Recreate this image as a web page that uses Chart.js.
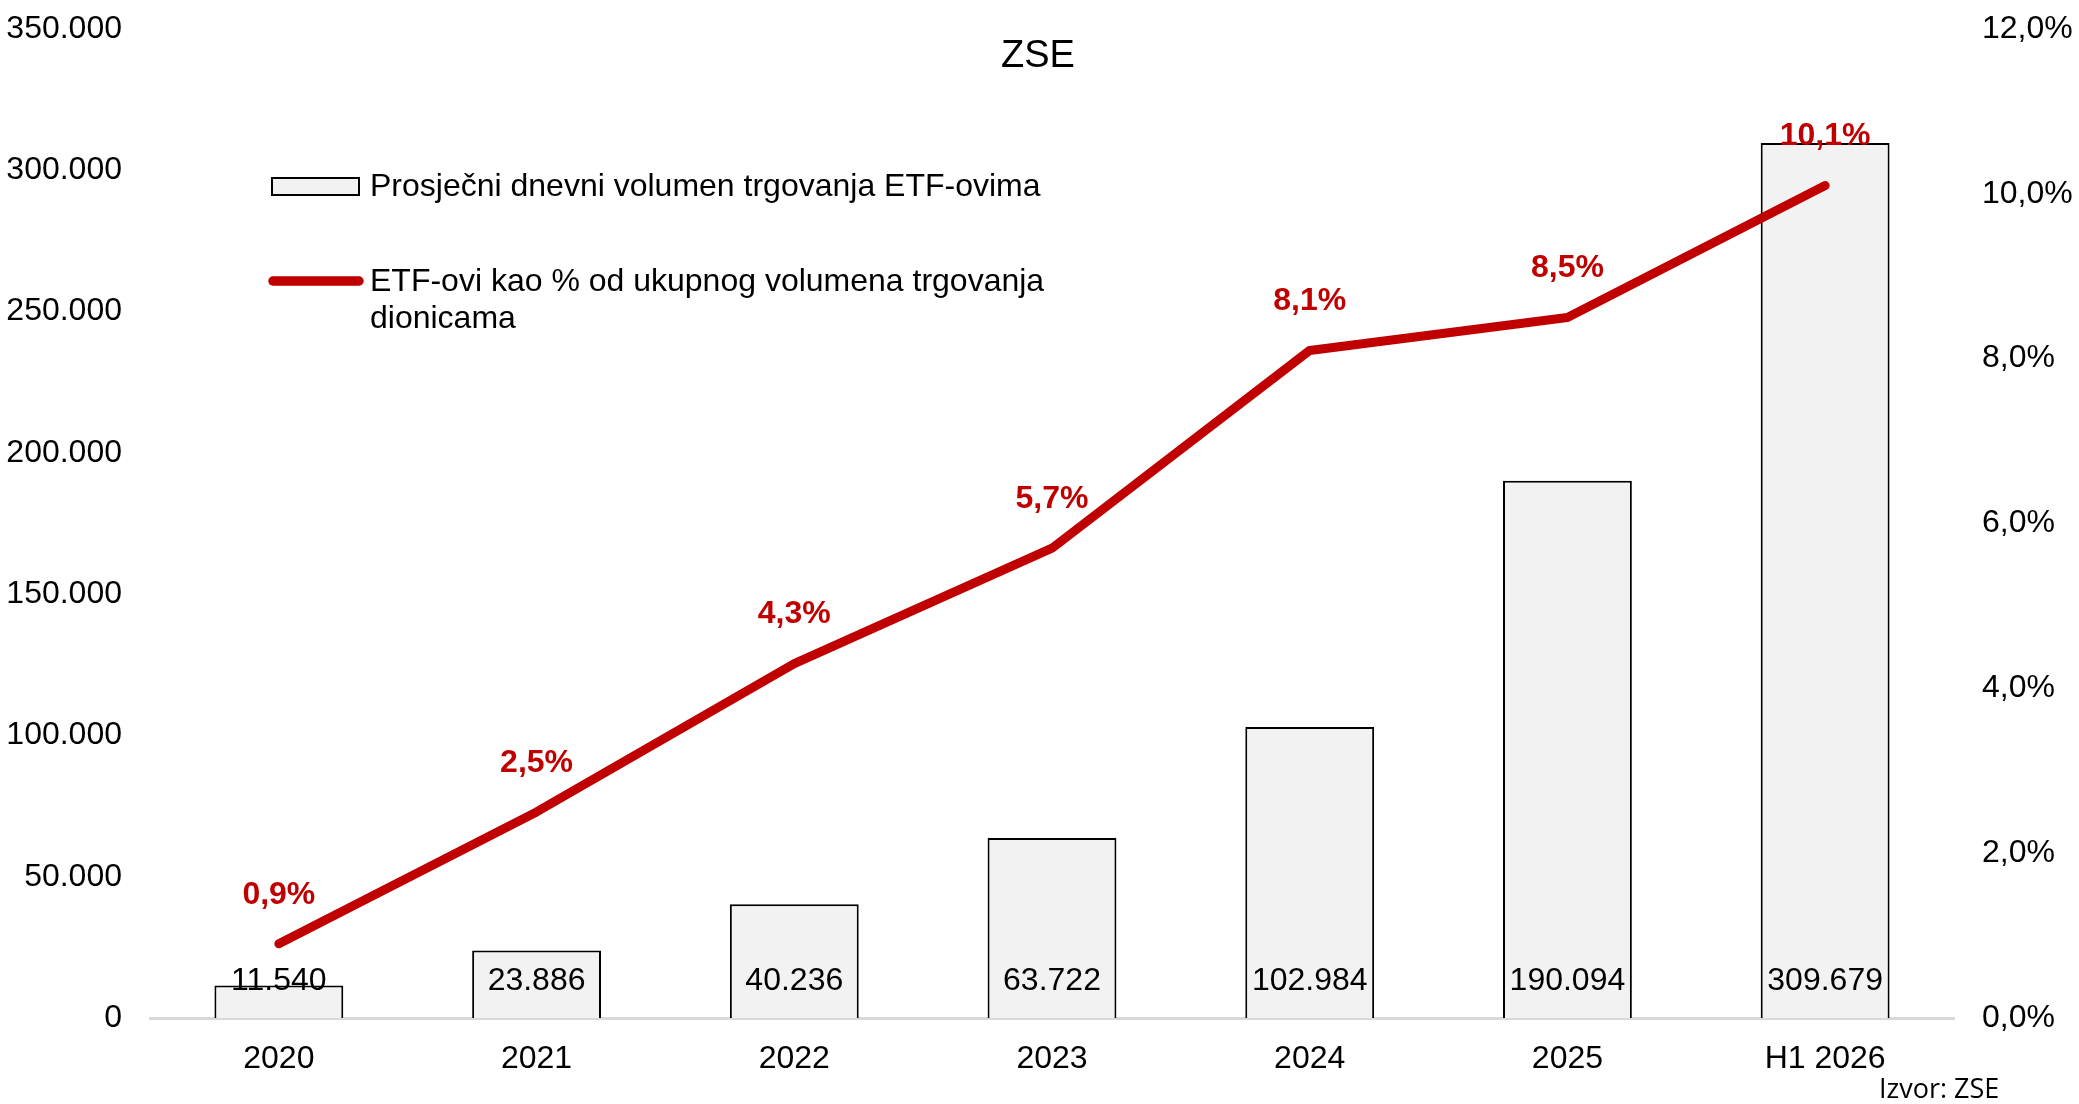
<!DOCTYPE html>
<html>
<head>
<meta charset="utf-8">
<script src="https://cdn.jsdelivr.net/npm/chart.js@4"></script>
<style>
  html, body { margin: 0; padding: 0; background: #fff; }
  #wrap { width: 2079px; height: 1104px; position: relative; }
</style>
</head>
<body>
<div id="wrap"><canvas id="chart"></canvas></div>
<script>
"use strict";

const CATEGORIES = ["2020", "2021", "2022", "2023", "2024", "2025", "H1 2026"];
const VOLUME = [11540, 23886, 40236, 63722, 102984, 190094, 309679];
const ETF_SHARE = [0.009, 0.025, 0.043, 0.057, 0.081, 0.085, 0.101];
const LEFT_TICKS = [0, 50000, 100000, 150000, 200000, 250000, 300000, 350000];
const RIGHT_TICKS = [0, 0.02, 0.04, 0.06, 0.08, 0.10, 0.12];

const BAR_LABEL = "Prosječni dnevni volumen trgovanja ETF-ovima";
const LINE_LABEL = ["ETF-ovi kao % od ukupnog volumena trgovanja", "dionicama"];
const TITLE = "ZSE";
const SOURCE = "Izvor: ZSE";

const RED = "#c00000";
const FONT = "'Liberation Sans', Arial, sans-serif";

// 11540 -> "11.540"
function fmtThousands(v) {
  return String(Math.round(v)).replace(/\B(?=(\d{3})+(?!\d))/g, ".");
}
// 0.101 -> "10,1%"
function fmtPct(v) {
  return (v * 100).toFixed(1).replace(".", ",") + "%";
}

// fixed axis sizes so the plot area lands where the original has it
function fitVertical(width) {
  return s => { s.width = width; s.paddingTop = 0; s.paddingBottom = 0; };
}

/* ─── Custom drawing: title, legend, data labels, source ─────────────── */
const decorations = {
  id: "decorations",
  afterDatasetsDraw(chart) {
    const ctx = chart.ctx;
    ctx.save();

    // bar value labels, fixed near the base of each bar
    const barMeta = chart.getDatasetMeta(0);
    const base = chart.scales.y.getPixelForValue(0);
    ctx.font = "32px " + FONT;
    ctx.fillStyle = "#000";
    ctx.textAlign = "center";
    ctx.textBaseline = "middle";
    barMeta.data.forEach((el, i) => {
      ctx.fillText(fmtThousands(VOLUME[i]), el.x, base - 37);
    });

    // line labels above each point
    const lineMeta = chart.getDatasetMeta(1);
    ctx.font = "bold 32px " + FONT;
    ctx.fillStyle = RED;
    lineMeta.data.forEach((pt, i) => {
      ctx.fillText(fmtPct(ETF_SHARE[i]), pt.x, pt.y - 49);
    });

    // title
    ctx.font = "38px " + FONT;
    ctx.fillStyle = "#000";
    ctx.fillText(TITLE, 1038, 57);

    // legend
    ctx.fillStyle = "#f2f2f2";
    ctx.strokeStyle = "#000";
    ctx.lineWidth = 2;
    ctx.fillRect(272, 178, 87, 17);
    ctx.strokeRect(272, 178, 87, 17);
    ctx.strokeStyle = RED;
    ctx.lineWidth = 9.5;
    ctx.lineCap = "round";
    ctx.beginPath();
    ctx.moveTo(273, 281);
    ctx.lineTo(359, 281);
    ctx.stroke();

    ctx.font = "32px " + FONT;
    ctx.fillStyle = "#000";
    ctx.textAlign = "left";
    ctx.fillText(BAR_LABEL, 370, 187);
    ctx.fillText(LINE_LABEL[0], 370, 282);
    ctx.fillText(LINE_LABEL[1], 370, 319);

    // source
    ctx.font = "27px 'Open Sans', sans-serif";
    ctx.fillText(SOURCE, 1879, 1090);

    ctx.restore();
  },
};

const ctx = document.getElementById("chart").getContext("2d");
new Chart(ctx, {
  data: {
    labels: CATEGORIES,
    datasets: [
      {
        type: "bar",
        label: BAR_LABEL,
        data: VOLUME,
        yAxisID: "y",
        backgroundColor: "#f2f2f2",
        borderColor: "#000",
        borderWidth: 2,
        barPercentage: 0.5,
        categoryPercentage: 1.0,
        order: 2,
      },
      {
        type: "line",
        label: LINE_LABEL.join(" "),
        data: ETF_SHARE,
        yAxisID: "y1",
        borderColor: RED,
        backgroundColor: RED,
        borderWidth: 9,
        borderCapStyle: "round",
        borderJoinStyle: "round",
        pointRadius: 0,
        tension: 0,
        order: 1,
      },
    ],
  },
  options: {
    responsive: true,
    maintainAspectRatio: false,
    animation: false,
    layout: { padding: { top: 29, bottom: 0, left: 0, right: 0 } },
    plugins: {
      legend: { display: false },
      title: { display: false },
      tooltip: { enabled: false },
    },
    scales: {
      x: {
        grid: { display: false, drawTicks: false },
        border: { display: true, color: "#d9d9d9", width: 3 },
        ticks: { color: "#000", font: { family: FONT, size: 32 }, padding: 22, maxRotation: 0 },
        afterFit: s => { s.height = 86; s.paddingLeft = 0; s.paddingRight = 0; },
      },
      y: {
        position: "left",
        min: 0, max: 350000,
        grid: { display: false, drawTicks: false },
        border: { display: false },
        afterBuildTicks: s => { s.ticks = LEFT_TICKS.map(v => ({ value: v })); },
        ticks: {
          color: "#000",
          font: { family: FONT, size: 32 },
          padding: 28,
          callback: v => fmtThousands(v),
        },
        afterFit: fitVertical(150),
      },
      y1: {
        position: "right",
        min: 0, max: 0.12,
        grid: { display: false, drawTicks: false },
        border: { display: false },
        afterBuildTicks: s => { s.ticks = RIGHT_TICKS.map(v => ({ value: v })); },
        ticks: {
          color: "#000",
          font: { family: FONT, size: 32 },
          padding: 28,
          callback: v => fmtPct(v),
        },
        afterFit: fitVertical(125),
      },
    },
  },
  plugins: [decorations],
});
</script>
</body>
</html>
